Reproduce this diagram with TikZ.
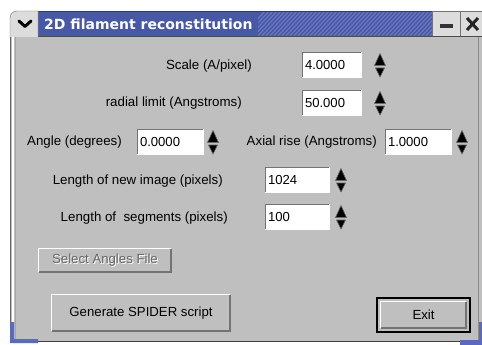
\documentclass[tikz,border=0pt]{standalone}
\usepackage{fontspec}
\setmainfont{Liberation Sans}
\newfontfamily\titlefont{DejaVu Sans}
\colorlet{bodygray}{black!25}
\definecolor{titleblue}{HTML}{4858A8}
\definecolor{titledark}{HTML}{2E3A80}
\definecolor{hatchblue}{HTML}{7C88C8}
\definecolor{framebtn}{HTML}{DCDCDC}
\definecolor{cornerblue}{HTML}{5A6AC0}
\tikzset{
  lbl/.style={anchor=east, inner sep=0pt, font=\fontsize{13.3}{15}\selectfont},
  entrybox/.style={draw=none, fill=white, inner sep=0pt, minimum height=26pt},
  entrytext/.style={anchor=west, inner sep=0pt, font=\fontsize{13.1}{15}\selectfont},
  btn/.style={fill=bodygray, inner sep=0pt},
  btntext/.style={inner sep=0pt, font=\fontsize{13.2}{15}\selectfont},
  spin/.style={fill=black, draw=black!60, line width=0.6pt, line join=round},
}
% sunken frame round an entry field
\newcommand\sunkenframe[1]{%
  \draw[black!55, line width=1.5pt] ([xshift=0.75pt,yshift=0.75pt]#1.south west) |- ([xshift=-0.75pt,yshift=-0.75pt]#1.north east);
  \draw[white, line width=1pt] ([xshift=0.5pt,yshift=0.5pt]#1.south west) -| ([xshift=-0.5pt,yshift=-0.5pt]#1.north east);}
% raised bevel round a push button
\newcommand\raisedframe[1]{%
  \draw[black!55, line width=2pt] ([xshift=1pt,yshift=1pt]#1.south west) -| ([xshift=-1pt,yshift=-1pt]#1.north east);
  \draw[white, line width=1pt] ([xshift=0.5pt,yshift=1.5pt]#1.south west) |- ([xshift=-1.5pt,yshift=-0.5pt]#1.north east);}
% up/down arrows of a spin box
\newcommand\spinarrows[2]{%
  \filldraw[spin] (#1-5.5,#2+0.5) -- (#1+5.5,#2+0.5) -- (#1,#2-11.5) -- cycle;
  \filldraw[spin] (#1-4.5,#2+3) -- (#1+4.5,#2+3) -- (#1,#2+12) -- cycle;}
\begin{document}
\begin{tikzpicture}[x=1pt,y=-1pt]
\useasboundingbox (0,0) rectangle (482,345);
\fill[white] (0,0) rectangle (482,345);

% ---- window body and frame ----
\fill[bodygray] (10,37) rectangle (482,342);
\draw[black!60] (10.5,37) -- (10.5,342);
\draw[white, line width=1.5pt] (13,37) -- (13,340);
\draw[black!35] (15.5,37) -- (15.5,339);
\draw[black!45] (478.5,37) -- (478.5,340);
\draw[black!75] (10,341.5) -- (482,341.5);
% resize corners
\fill[cornerblue] (10,322) rectangle (14,343) (10,339) rectangle (38,343);
\fill[cornerblue] (479,322) rectangle (482,345) (460,340) rectangle (482,345);

% ---- title bar ----
\fill[titleblue] (38,11) rectangle (433,37);
\begin{scope}
  \clip (258,12) rectangle (433,37);
  \foreach \i in {0,...,50}
    \draw[hatchblue, line width=1.1pt, opacity=0.7] (240+\i*4,38) -- (266+\i*4,10);
\end{scope}
\draw[titledark] (38,11.5) -- (433,11.5);
\draw[black!70] (10,36.5) -- (482,36.5);
% window menu button
\path[fill=framebtn, draw=black!55] (10,37) [rounded corners=7pt] -- (10,11) [sharp corners] -- (38,11) -- (38,37);
\draw[line width=3pt, line cap=round, line join=round] (19,21) -- (25,26.5) -- (31,21);
% minimise and close buttons
\fill[framebtn] (433,11) rectangle (482,36);
\draw[black!55] (433,11.5) -- (482,11.5) (432.5,11) -- (432.5,36) (460.5,11) -- (460.5,36);
\fill[black!80] (440,24) rectangle (453,28.5);
\draw[line width=3pt, black!85] (467,18) -- (478,30) (467,30) -- (478,18);
\node[anchor=west, inner sep=0pt, text=white, font=\titlefont\bfseries\fontsize{14}{16}\selectfont] (title) at (44,24) {2D filament reconstitution};

% ---- row 1: scale ----
\node[lbl] (lscale) at (252,66) {Scale (A/pixel)};
\node[entrybox, minimum width=60pt] (escale) at (332,65) {};
\sunkenframe{escale}
\node[entrytext] (tscale) at ([xshift=3pt]escale.west) {4.0000};
\spinarrows{380}{65}

% ---- row 2: radial limit ----
\node[lbl] (lradial) at (242,103) {radial limit (Angstroms)};
\node[entrybox, minimum width=60pt] (eradial) at (332,103) {};
\sunkenframe{eradial}
\node[entrytext] (tradial) at ([xshift=3pt]eradial.west) {50.000};
\spinarrows{380}{103}

% ---- row 3: angle and axial rise ----
\node[lbl] (langle) at (122,142) {Angle (degrees)};
\node[entrybox, minimum width=67pt] (eangle) at (170.5,142) {};
\sunkenframe{eangle}
\node[entrytext] (tangle) at ([xshift=3pt]eangle.west) {0.0000};
\spinarrows{213}{142}
\node[lbl] (lrise) at (377,142) {Axial rise (Angstroms)};
\node[entrybox, minimum width=67pt] (erise) at (418.5,142) {};
\sunkenframe{erise}
\node[entrytext] (trise) at ([xshift=3pt]erise.west) {1.0000};
\spinarrows{462}{142}

% ---- row 4: image length ----
\node[lbl] (limage) at (223,181) {Length of new image (pixels)};
\node[entrybox, minimum width=65pt] (eimage) at (297.5,180) {};
\sunkenframe{eimage}
\node[entrytext] (timage) at ([xshift=3pt]eimage.west) {1024};
\spinarrows{341}{180}

% ---- row 5: segment length ----
\node[lbl] (lseg) at (228,218) {Length of\ \ segments (pixels)};
\node[entrybox, minimum width=65pt] (eseg) at (297.5,217) {};
\sunkenframe{eseg}
\node[entrytext] (tseg) at ([xshift=3pt]eseg.west) {100};
\spinarrows{341}{217}

% ---- disabled button ----
\node[btn, minimum width=134pt, minimum height=25pt] (bselect) at (105,260.5) {};
\raisedframe{bselect}
\node[btntext, text=white] (sselect) at (106,261.5) {Select Angles File};
\node[btntext, text=black!60] (tselect) at (bselect) {Select Angles File};

% ---- generate button ----
\node[btn, minimum width=180pt, minimum height=38pt] (bgen) at (141,313) {};
\raisedframe{bgen}
\node[btntext] (tgen) at (bgen) {Generate SPIDER script};

% ---- exit button (default) ----
\node[draw=black, line width=2.5pt, fill=bodygray, minimum width=93pt, minimum height=34pt, inner sep=0pt] (fexit) at (423.5,315) {};
\node[btn, minimum width=87pt, minimum height=28pt] (bexit) at (fexit) {};
\raisedframe{bexit}
\node[btntext] (texit) at (bexit) {Exit};
\end{tikzpicture}
\end{document}
